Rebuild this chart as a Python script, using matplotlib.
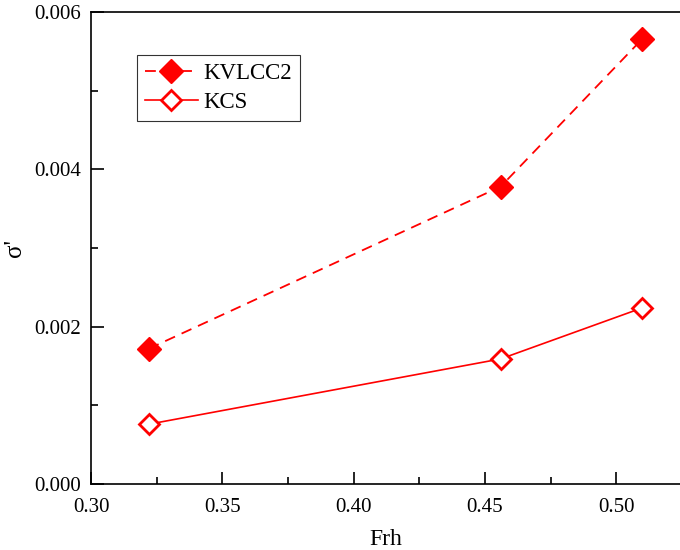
import numpy as np
import matplotlib
matplotlib.use('Agg')
from matplotlib import pyplot as plt
from matplotlib.ticker import MultipleLocator


frh = [0.322, 0.456, 0.510]
kvlcc2 = [0.00172, 0.00378, 0.00566]
kcs = [0.00076, 0.00159, 0.00224]

plt.rcParams['font.family'] = ['Liberation Serif', 'DejaVu Serif']
plt.rcParams['font.size'] = 15

fig = plt.figure(figsize=(6.8, 5.5), dpi=100)
ax = fig.add_axes([91 / 680, 66 / 550, 1 - 91 / 680, (484 - 12) / 550])

ax.plot(frh, kvlcc2, color='red', linestyle=(0, (6, 4)), linewidth=1.3,
        marker='D', markersize=12, markerfacecolor='red', markeredgecolor='red',
        label='KVLCC2')
ax.plot(frh, kcs, color='red', linestyle='-', linewidth=1.2,
        marker='D', markersize=10.5, markerfacecolor='white', markeredgecolor='red',
        markeredgewidth=2, label='KCS')

ax.set_xlim(0.30, 0.30 + 0.05 * (680 - 91) / 131.3)
ax.set_ylim(0, 0.006)
ax.xaxis.set_major_locator(MultipleLocator(0.05))
ax.xaxis.set_minor_locator(MultipleLocator(0.025))
ax.yaxis.set_major_locator(MultipleLocator(0.002))
ax.yaxis.set_minor_locator(MultipleLocator(0.001))
ax.xaxis.set_major_formatter(plt.FormatStrFormatter('%.2f'))
ax.yaxis.set_major_formatter(plt.FormatStrFormatter('%.3f'))
ax.tick_params(which='both', direction='in', width=1.2, labelsize=15)
ax.tick_params(which='major', length=9)
ax.tick_params(which='minor', length=5)
ax.tick_params(axis='x', pad=10)
ax.tick_params(axis='y', pad=7)
ax.spines['right'].set_visible(False)
for s in ['left', 'bottom', 'top']:
    ax.spines[s].set_linewidth(1.2)

ax.set_xlabel('Frh', fontsize=17, labelpad=9)
ax.set_ylabel("σ'", fontsize=18, labelpad=6)

leg = ax.legend(loc='upper left', bbox_to_anchor=(46 / 589, 1 - 43 / 472),
                frameon=True, fancybox=False, edgecolor='black', fontsize=16.5,
                handlelength=2.3, borderpad=0.35, labelspacing=0.35,
                handletextpad=0.25, borderaxespad=0)
leg.get_frame().set_linewidth(0.8)

plt.savefig('out.png', dpi=100)
plt.close()
